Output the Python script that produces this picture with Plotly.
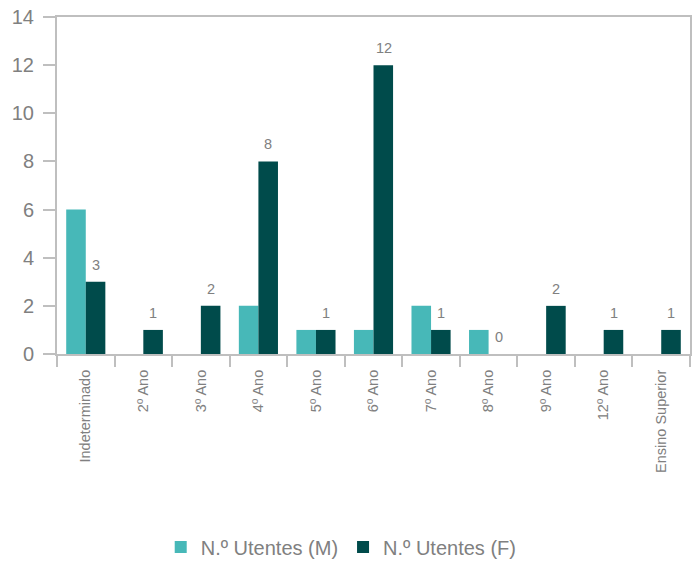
import plotly.graph_objects as go

categories = ["Indeterminado", "2º Ano", "3º Ano", "4º Ano", "5º Ano", "6º Ano",
              "7º Ano", "8º Ano", "9º Ano", "12º Ano", "Ensino Superior"]
utentes_m = [6, None, None, 2, 1, 1, 2, 1, None, None, None]
utentes_f = [3, 1, 2, 8, 1, 12, 1, 0, 2, 1, 1]

grey = "#808080"
axis_col = "#BFBFBF"
font_family = "Liberation Sans, Arial, sans-serif"

fig = go.Figure()
fig.add_trace(go.Bar(
    x=categories, y=utentes_m, name="N.º Utentes (M)",
    marker=dict(color="#47B8B8", line=dict(width=0)),
))
fig.add_trace(go.Bar(
    x=categories, y=utentes_f, name="N.º Utentes (F)",
    marker=dict(color="#004B4B", line=dict(width=0)),
))

# data labels above the F bars
for cat, val in zip(categories, utentes_f):
    fig.add_annotation(
        x=cat, y=val, xref="x", yref="y", text=str(val), showarrow=False,
        xanchor="center", yanchor="bottom", xshift=10, yshift=7,
        font=dict(size=14.5, color=grey, family=font_family),
    )

fig.update_layout(
    width=699, height=561,
    margin=dict(l=57, r=9, t=17, b=207, autoexpand=False),
    paper_bgcolor="white", plot_bgcolor="white",
    barmode="group", bargap=0.32, bargroupgap=0,
    font=dict(family=font_family, color=grey),
    showlegend=True,
    legend=dict(orientation="h", x=0.449, xanchor="center", y=-0.573, yanchor="middle",
                font=dict(size=20, color=grey, family=font_family),
                traceorder="normal", itemwidth=30),
    xaxis=dict(
        type="category", tickangle=-90, tickfont=dict(size=14.5, color=grey),
        ticks="outside", tickson="boundaries", ticklen=11, tickcolor=axis_col, tickwidth=2,
        showline=True, linecolor=axis_col, linewidth=2, mirror=True,
        showgrid=False, zeroline=False, automargin=False, ticklabelstandoff=8,
    ),
    yaxis=dict(
        range=[0, 14], dtick=2, tickfont=dict(size=20, color=grey),
        ticks="outside", ticklen=12, tickcolor=axis_col, tickwidth=2,
        showline=True, linecolor=axis_col, linewidth=2, mirror=True,
        showgrid=False, zeroline=False, automargin=False, ticklabelstandoff=5,
    ),
)

fig.write_html("out.html", config={"displayModeBar": False},
               post_script="document.body.style.margin='0';")
